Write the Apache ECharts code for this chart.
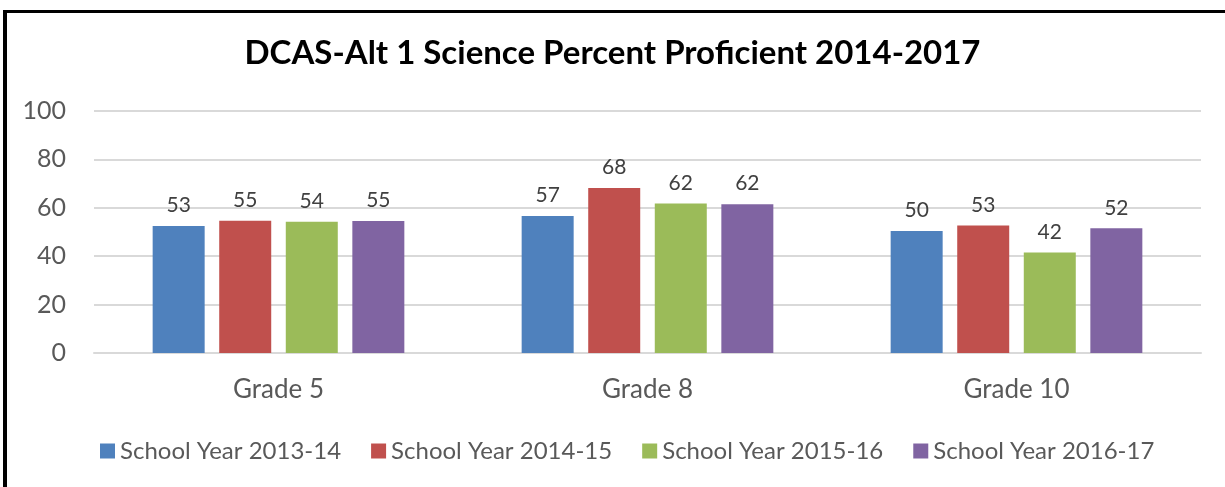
<!DOCTYPE html>
<html>
<head>
<meta charset="utf-8">
<title>DCAS-Alt 1 Science Percent Proficient 2014-2017</title>
<script src="https://cdn.jsdelivr.net/npm/echarts@6/dist/echarts.min.js"></script>
<style>
  html, body { margin: 0; padding: 0; background: #fff; }
  #wrap { position: relative; width: 1225px; height: 487px; overflow: hidden; }
  #frame { position: absolute; left: 3px; top: 10px; width: 1300px; height: 600px;
           border-left: 4px solid #000; border-top: 3px solid #000; pointer-events: none; }
  #chart { position: absolute; left: 0; top: 0; width: 1225px; height: 487px; }
</style>
</head>
<body>
<div id="wrap">
  <div id="chart"></div>
  <div id="frame"></div>
</div>
<script>
const categories = ['Grade 5', 'Grade 8', 'Grade 10'];
const seriesNames = ['School Year 2013-14', 'School Year 2014-15', 'School Year 2015-16', 'School Year 2016-17'];
const year2013_14 = [52.5, 56.6, 50.4];
const year2014_15 = [54.6, 68.2, 52.7];
const year2015_16 = [54.2, 61.8, 41.5];
const year2016_17 = [54.5, 61.5, 51.5];
const yTicks = [0, 20, 40, 60, 80, 100];
const colors = ['#4F81BD', '#C0504D', '#9BBB59', '#8064A2'];

const values = [year2013_14, year2014_15, year2015_16, year2016_17];
const font = 'Lato, "Open Sans", sans-serif';

let myChart = echarts.init(document.getElementById('chart'));
let option = {
    backgroundColor: '#fff',
    animation: false,
    title: {
        text: 'DCAS-Alt 1 Science Percent Proficient 2014-2017',
        left: 'center',
        top: 32,
        textStyle: { fontFamily: font, fontWeight: 'bold', fontSize: 33, color: '#000' }
    },
    legend: {
        data: seriesNames,
        top: 434,
        left: 95,
        icon: 'rect',
        itemWidth: 15,
        itemHeight: 15,
        itemGap: 30,
        textStyle: { fontFamily: font, fontSize: 24, color: '#595959' }
    },
    grid: { left: 94, right: 24, top: 111, bottom: 134, containLabel: false },
    xAxis: {
        type: 'category',
        data: categories,
        axisLine: { lineStyle: { color: '#D9D9D9', width: 2 } },
        axisTick: { show: false },
        axisLabel: { fontFamily: font, fontSize: 26, color: '#595959', margin: 24 }
    },
    yAxis: {
        type: 'value',
        min: yTicks[0],
        max: yTicks[yTicks.length - 1],
        interval: 20,
        axisLine: { show: false },
        axisTick: { show: false },
        splitLine: { lineStyle: { color: '#D9D9D9', width: 2 } },
        axisLabel: { fontFamily: font, fontSize: 25, color: '#595959', margin: 28 }
    },
    series: seriesNames.map(function (name, i) {
        return {
            name: name,
            type: 'bar',
            data: values[i],
            barWidth: 52,
            barGap: '28%',
            itemStyle: { color: colors[i] },
            label: {
                show: true,
                position: 'top',
                distance: 10,
                fontFamily: font,
                fontSize: 21,
                color: '#404040',
                formatter: function (p) { return Math.round(p.value); }
            }
        };
    })
};

option && myChart.setOption(option);
</script>
</body>
</html>
